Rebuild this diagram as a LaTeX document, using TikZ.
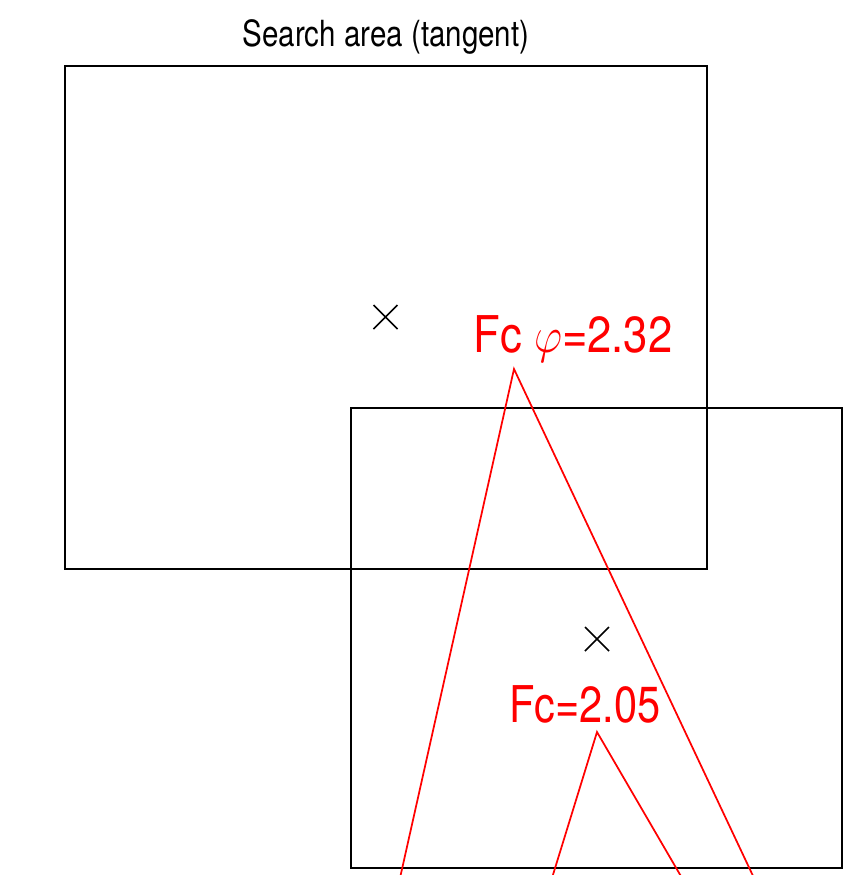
\RequirePackage{fix-cm}
\documentclass[tikz,border=0pt]{standalone}
\usepackage{fontspec}
\setmainfont{TeX Gyre Heros}
\begin{document}
\begin{tikzpicture}[x=0.75pt, y=-0.75pt, line width=1.3pt,
		area/.style={draw=black},
		cut/.style={draw=red},
		lbl/.style={anchor=base, inner sep=0pt, xscale=0.82},
		every node/.style={font=\fontsize{38}{40}\selectfont}]
	\useasboundingbox (0,0) rectangle (846,875);
	\clip (0,0) rectangle (846,875);
	% search areas
	\draw[area] (65,66) rectangle (707,569);
	\draw[area] (351,408) rectangle (842,868);
	\node[lbl, font=\fontsize{27}{30}\selectfont] (title) at (386,46) {Search area (tangent)};
	
	% centres
	\coordinate (c1) at (385.5,317);
	\coordinate (c2) at (597,639);
	\foreach \c in {c1,c2}
		\draw ([shift={(-12,-12)}]\c) -- ([shift={(12,12)}]\c)
		      ([shift={(-12,12)}]\c) -- ([shift={(12,-12)}]\c);
	
	% tangent wedges
	\coordinate (top1) at (514,369);
	\coordinate (top2) at (597,732);
	\draw[cut] (400,878) -- (top1) -- (754,878);
	\draw[cut] (552,878) -- (top2) -- (682,878);
	\node[lbl, red, xscale=1.05] (fc1) at (573,352) {Fc $\varphi$=2.32};
	\node[lbl, red] (fc2) at (585,722) {Fc=2.05};
\end{tikzpicture}
\end{document}
